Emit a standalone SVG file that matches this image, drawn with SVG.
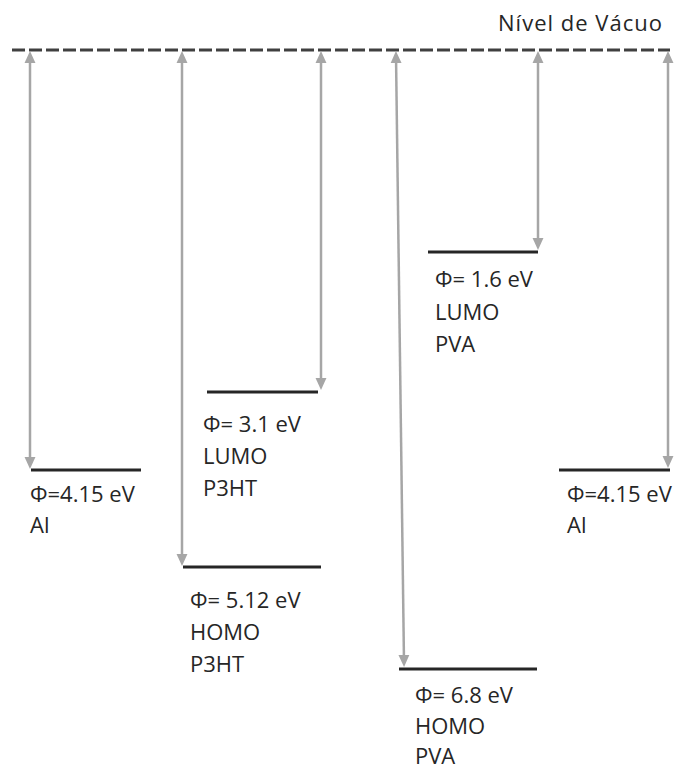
<svg xmlns="http://www.w3.org/2000/svg" width="683" height="769" viewBox="0 0 683 769">
<style>
.t{font-family:"Open Sans","Noto Sans","Liberation Sans",sans-serif;font-size:22px;fill:#262626}
.lvl{stroke:#262626;stroke-width:3}
.arr{stroke:#a6a6a6;stroke-width:2.5;fill:none;marker-start:url(#ah);marker-end:url(#ah)}
</style>
<defs>
<marker id="ah" markerUnits="userSpaceOnUse" markerWidth="12" markerHeight="12" refX="0" refY="5" orient="auto-start-reverse" viewBox="0 0 11 10">
<path d="M0,0 L11,5 L0,10 z" fill="#a6a6a6"/>
</marker>
</defs>
<rect width="683" height="769" fill="#ffffff"/>
<g id="vacuum">
<line x1="12" y1="50" x2="670" y2="50" stroke="#404040" stroke-width="3" stroke-dasharray="13,4"/>
<text class="t" x="498" y="31" font-size="23" textLength="164" lengthAdjust="spacing">Nível de Vácuo</text>
</g>
<g id="connectors">
<line class="arr" x1="30" y1="63" x2="30" y2="457"/>
<line class="arr" x1="182" y1="63" x2="182" y2="554"/>
<line class="arr" x1="321" y1="63" x2="321" y2="378"/>
<line class="arr" x1="396.1" y1="63" x2="403.9" y2="655"/>
<line class="arr" x1="538" y1="63" x2="538" y2="238"/>
<line class="arr" x1="668" y1="63" x2="668" y2="456"/>
</g>
<g id="al-left">
<line class="lvl" x1="31" y1="470" x2="141" y2="470"/>
<text class="t" x="30" y="502">Φ=4.15 eV</text>
<text class="t" x="30" y="533">Al</text>
</g>
<g id="p3ht-lumo">
<line class="lvl" x1="207" y1="392" x2="318" y2="392"/>
<text class="t" x="203" y="432">Φ= 3.1 eV</text>
<text class="t" x="203" y="464">LUMO</text>
<text class="t" x="203" y="496">P3HT</text>
</g>
<g id="p3ht-homo">
<line class="lvl" x1="183" y1="567" x2="321" y2="567"/>
<text class="t" x="190" y="608">Φ= 5.12 eV</text>
<text class="t" x="190" y="640">HOMO</text>
<text class="t" x="190" y="672">P3HT</text>
</g>
<g id="pva-lumo">
<line class="lvl" x1="428" y1="252" x2="538" y2="252"/>
<text class="t" x="435" y="287">Φ= 1.6 eV</text>
<text class="t" x="435" y="320">LUMO</text>
<text class="t" x="435" y="352">PVA</text>
</g>
<g id="pva-homo">
<line class="lvl" x1="399" y1="669" x2="537" y2="669"/>
<text class="t" x="415" y="703">Φ= 6.8 eV</text>
<text class="t" x="415" y="734">HOMO</text>
<text class="t" x="415" y="764">PVA</text>
</g>
<g id="al-right">
<line class="lvl" x1="559" y1="470" x2="670" y2="470"/>
<text class="t" x="567" y="502">Φ=4.15 eV</text>
<text class="t" x="567" y="533">Al</text>
</g>
</svg>
